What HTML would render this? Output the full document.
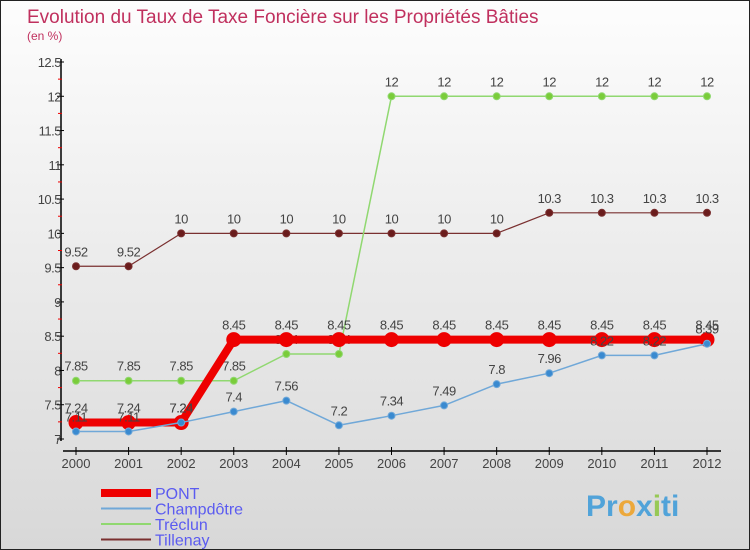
<!DOCTYPE html>
<html><head><meta charset="utf-8"><style>
body{margin:0}
#c{width:750px;height:550px;position:relative;overflow:hidden;background:linear-gradient(#fdfdfd,#d8d8d8);border:1px solid #222;box-sizing:border-box}
text{font-family:"Liberation Sans",sans-serif}
</style></head><body>
<div id="c">
<svg id="s" width="750" height="550">
<text x="26" y="22" font-size="19" fill="#c0305e">Evolution du Taux de Taxe Foncière sur les Propriétés Bâties</text>
<text x="26" y="39" font-size="12" fill="#c0305e">(en %)</text>
<text x="585" y="515" font-size="30" font-weight="bold" fill="#3a9ad9" opacity="0.85">Pr<tspan fill="#f0a020">o</tspan><tspan fill="#3a9ad9">x</tspan><tspan fill="#8cc63f">i</tspan>ti</text>
</svg>
</div>
<script>
const years=[2000,2001,2002,2003,2004,2005,2006,2007,2008,2009,2010,2011,2012];
const yTicks=[7,7.5,8,8.5,9,9.5,10,10.5,11,11.5,12,12.5];
const pont=[7.24,7.24,7.24,8.45,8.45,8.45,8.45,8.45,8.45,8.45,8.45,8.45,8.45];
const champ=[7.11,7.11,7.24,7.4,7.56,7.2,7.34,7.49,7.8,7.96,8.22,8.22,8.39];
const treclun=[7.85,7.85,7.85,7.85,8.24,8.24,12,12,12,12,12,12,12];
const tillenay=[9.52,9.52,10,10,10,10,10,10,10,10.3,10.3,10.3,10.3];
const NS="http://www.w3.org/2000/svg";
const s=document.getElementById('s');
const X=i=>75+i*(706-75)/12;
const Y=v=>438-(v-7)*(438-61)/5.5;
function el(t,a,p){const e=document.createElementNS(NS,t);for(const k in a)e.setAttribute(k,a[k]);(p||s).appendChild(e);return e;}
let ax=el('line',{x1:60,y1:58,x2:60,y2:440,stroke:'#000','stroke-width':1.5});


let xa=el('line',{x1:62,y1:450,x2:720,y2:450,stroke:'#000','stroke-width':1.5});


yTicks.forEach(v=>{
 el('line',{x1:56,y1:Y(v),x2:63,y2:Y(v),stroke:'#000'});
 if(v<12.5)el('line',{x1:57,y1:Y(v+0.25),x2:61,y2:Y(v+0.25),stroke:'#e00'});
 const t=el('text',{x:60,y:Y(v)+5,'font-size':13,fill:'#444','text-anchor':'end','letter-spacing':'-0.5'});t.textContent=v;
 
 
});
years.forEach((y,i)=>{
 el('line',{x1:X(i),y1:446,x2:X(i),y2:454,stroke:'#000'});
 const t=el('text',{x:X(i),y:467,'font-size':13,fill:'#444','text-anchor':'middle'});t.textContent=y;
 
 
});
function series(data,color,w,r,name,dot){
 const g=el('g',{});
 
 
 el('polyline',{points:data.map((v,i)=>X(i)+','+Y(v)).join(' '),fill:'none',stroke:color,'stroke-width':w,'stroke-linejoin':'round'},g);
 data.forEach((v,i)=>{
  const c=el('circle',{cx:X(i),cy:Y(v),r:r,fill:dot,stroke:color,'stroke-width':1},g);
  
  
  const t=el('text',{x:X(i),y:Y(v)-10,'font-size':13,fill:'#444','text-anchor':'middle','letter-spacing':'-0.5'},g);t.textContent=v;
 });
}
series(tillenay,'#7a3030',1.2,3.5,'tillenay','#6a1c1c');
series(treclun,'#90d870',1.5,3.5,'treclun','#7acc3a');
series(pont,'#ee0000',8,7,'pont','#ee0000');
series(champ,'#70a8d8',1.5,3.5,'champdotre','#3a8ad0');
const legend=[['PONT','#ee0000',8],['Champdôtre','#70a8d8',2],['Tréclun','#90d870',2],['Tillenay','#7a3030',2]];
legend.forEach((l,i)=>{
 const yy=492+i*15.5;
 const g=el('g',{});
 
 
 el('line',{x1:100,y1:yy,x2:150,y2:yy,stroke:l[1],'stroke-width':l[2]},g);
 const t=el('text',{x:154,y:yy+6,'font-size':16,fill:'#5b5bf0'},g);t.textContent=l[0];
});
</script>
</body></html>
